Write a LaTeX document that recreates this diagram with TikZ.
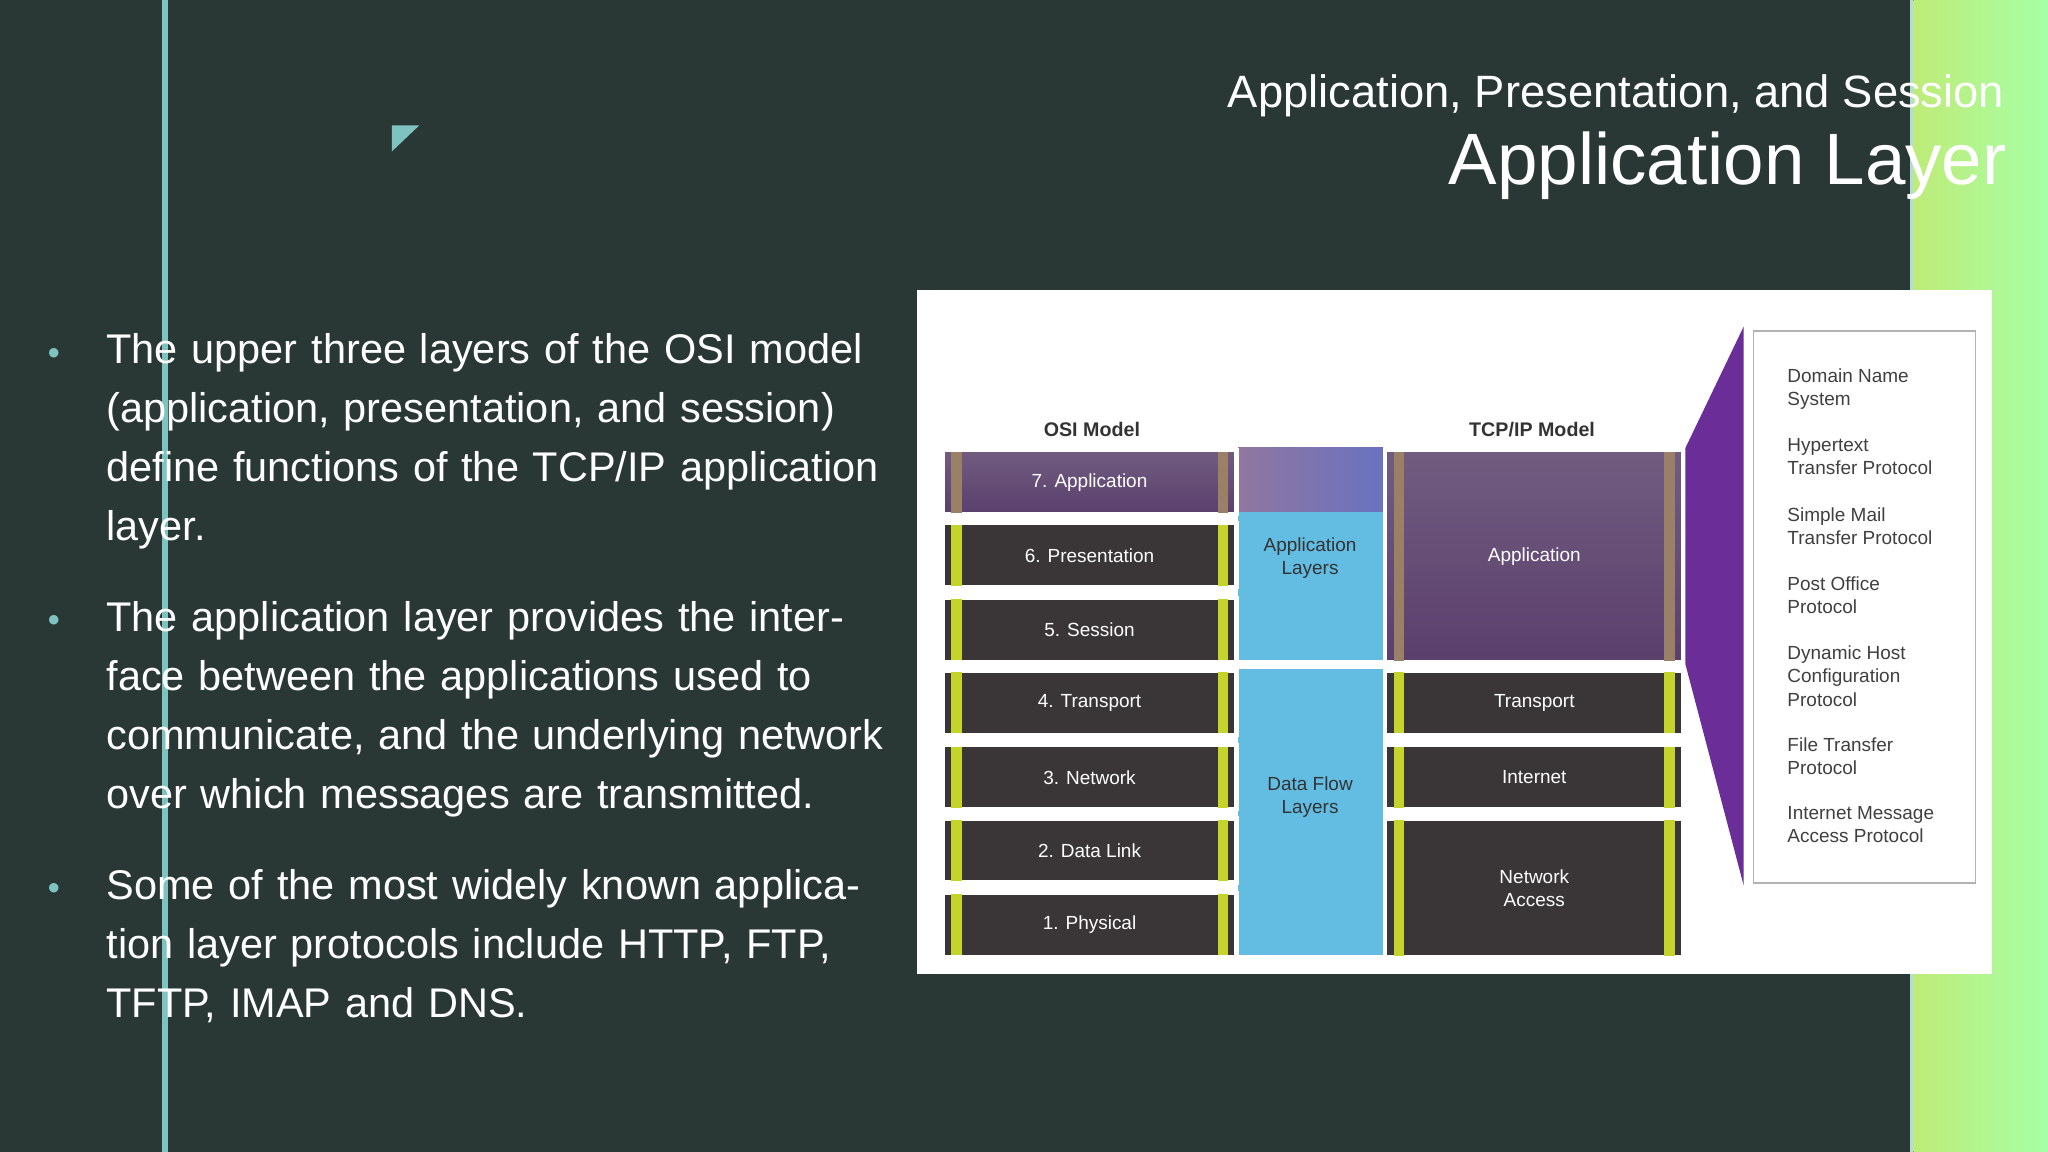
\documentclass[tikz,border=0pt]{standalone}
\usepackage{fontspec}
\setmainfont{Liberation Sans}
\usetikzlibrary{positioning}
\definecolor{slide}{HTML}{2A3835}
\definecolor{teal}{HTML}{7FC3C0}
\definecolor{osidark}{HTML}{3A3638}
\definecolor{lime}{HTML}{C4D42A}
\definecolor{sky}{HTML}{63BDE3}
\definecolor{plum}{HTML}{6A4A80}
\definecolor{wedge}{HTML}{6B2E98}
\definecolor{steel}{HTML}{6A72C0}

\begin{document}
\begin{tikzpicture}[x=0.013061cm, y=-0.013061cm,
    layer/.style={draw=white, line width=1.2pt, fill=osidark, text=white, font=\fontsize{5.4}{6.6}\selectfont, align=center, anchor=north west, inner sep=0pt},
    apps/.style={layer, top color=plum!65!gray, bottom color=plum!85!black},
    bullet/.style={anchor=north west, text=white, align=left, text width=7.9cm, font=\fontsize{11.8}{16.8}\selectfont, inner sep=0pt},
    proto/.style={anchor=north west, align=left, font=\fontsize{5.4}{6.6}\selectfont, text=black!75, inner sep=0pt},
    band/.style={fill=sky, draw=none}
  ]

  % slide background
  \fill[slide] (0,0) rectangle (1568,882);
  \shade[left color=green!25!lime!60, right color=green!35!white] (1465,0) rectangle (1568,882);
  \fill[teal] (124,0) rectangle (129,882);
  \fill[teal!60] (1462,0) rectangle (1465,882);
  \fill[teal] (300,96) -- (321,96) -- (300,116) -- cycle;
  \useasboundingbox (0,0) rectangle (1568,882);

  % title
  \node[anchor=south east, text=white, font=\fontsize{12.9}{14}\selectfont, inner sep=0pt] (subtitle) at (1535,90) {Application, Presentation, and Session};
  \node[anchor=north east, text=white, font=\fontsize{20.7}{22}\selectfont, inner sep=0pt] (title) at (1537,100) {Application Layer};

  % bullets
  \node[bullet] (b1) at (81,255) {\raggedright The upper three layers of the OSI model (application, presentation, and session) define functions of the TCP/IP application layer.};
  \node[bullet] (b2) at (81,460) {\raggedright The application layer provides the interface between the applications used to communicate, and the underlying network over which messages are transmitted.};
  \node[bullet] (b3) at (81,665) {\raggedright Some of the most widely known application layer protocols include HTTP, FTP, TFTP, IMAP and DNS.};
  \foreach \b in {b1,b2,b3}
    \node[text=teal, anchor=center, font=\fontsize{6}{6}\selectfont, inner sep=0pt] at ([xshift=-0.52cm,yshift=-0.2cm]\b.north west) {$\bullet$};

  % diagram panel
  \fill[white] (702,222) rectangle (1525,746);
  \node[font=\bfseries\fontsize{5.6}{7}\selectfont, text=black!80] (osititle) at (836,329) {OSI Model};
  \node[font=\bfseries\fontsize{5.6}{7}\selectfont, text=black!80] (tcptitle) at (1173,329) {TCP/IP Model};

  % middle bands
  \shade[left color=plum!75!white, right color=steel] (948,343) rectangle (1059,392);
  \fill[band] (948,392) rectangle (1059,505);
  \fill[band] (948,512) rectangle (1059,731);
  \node[font=\fontsize{5.4}{6.6}\selectfont, align=center, text=black!80] (applayers) at (1003,427) {Application\\Layers};
  \node[font=\fontsize{5.4}{6.6}\selectfont, align=center, text=black!80] (flowlayers) at (1003,610) {Data Flow\\Layers};

  % OSI layers
  \foreach \n/\t/\y in {6/6. Presentation/399, 5/5. Session/456, 4/4. Transport/512, 3/3. Network/569, 2/2. Data Link/625, 1/1. Physical/682}{
    \node[layer, minimum width=2.94cm, minimum height=0.64cm] (osi\n) at (720,\y) {\t};
    \fill[lime] ([shift={(3pt,-1pt)}]osi\n.north west) rectangle ([shift={(6pt,1pt)}]osi\n.south west);
    \fill[lime] ([shift={(-6pt,-1pt)}]osi\n.north east) rectangle ([shift={(-3pt,1pt)}]osi\n.south east);
  }
  \node[apps, minimum width=2.94cm, minimum height=0.64cm] (osi7) at (720,343) {7. Application};
  \fill[gray!60!brown] ([shift={(3pt,-1pt)}]osi7.north west) rectangle ([shift={(6pt,1pt)}]osi7.south west);
  \fill[gray!60!brown] ([shift={(-6pt,-1pt)}]osi7.north east) rectangle ([shift={(-3pt,1pt)}]osi7.south east);

  % TCP/IP layers
  \node[apps, minimum width=2.98cm, minimum height=2.12cm] (tcpapp) at (1059,343) {Application};
  \node[layer, minimum width=2.98cm, minimum height=0.64cm] (tcptrans) at (1059,512) {Transport};
  \node[layer, minimum width=2.98cm, minimum height=0.64cm] (tcpnet) at (1059,569) {Internet};
  \node[layer, minimum width=2.98cm, minimum height=1.39cm] (tcpaccess) at (1059,625) {Network\\Access};
  \foreach \n in {tcptrans,tcpnet,tcpaccess}{
    \fill[lime] ([shift={(3pt,-1pt)}]\n.north west) rectangle ([shift={(6pt,1pt)}]\n.south west);
    \fill[lime] ([shift={(-6pt,-1pt)}]\n.north east) rectangle ([shift={(-3pt,1pt)}]\n.south east);
  }
  \fill[gray!60!brown] ([shift={(3pt,-1pt)}]tcpapp.north west) rectangle ([shift={(6pt,1pt)}]tcpapp.south west);
  \fill[gray!60!brown] ([shift={(-6pt,-1pt)}]tcpapp.north east) rectangle ([shift={(-3pt,1pt)}]tcpapp.south east);

  % protocol list
  \fill[wedge] (tcpapp.north east) -- (1335,250) -- (1335,678) -- (tcpapp.south east) -- cycle;
  \node[draw=black!30, fill=white, minimum width=2.22cm, minimum height=5.52cm, anchor=north west] (protos) at (1342,253) {};
  \foreach \t [count=\i] in {Domain Name\\System, Hypertext\\Transfer Protocol, Simple Mail\\Transfer Protocol, Post Office\\Protocol, Dynamic Host\\Configuration\\Protocol}
    \node[proto] (proto\i) at (1368,282+53*\i-53) {\t};
  \node[proto] (proto6) at (1368,564) {File Transfer\\Protocol};
  \node[proto] (proto7) at (1368,617) {Internet Message\\Access Protocol};
\end{tikzpicture}
\end{document}
